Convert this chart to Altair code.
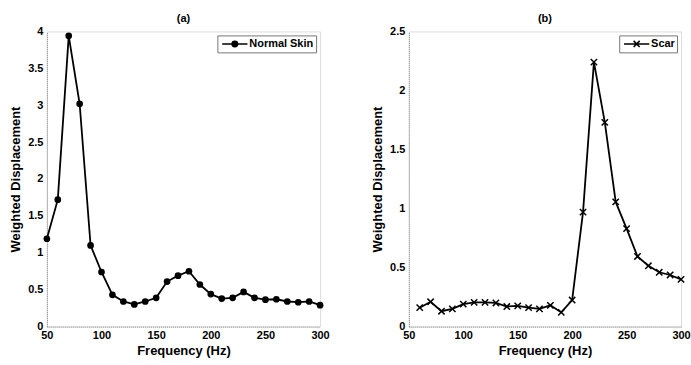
import altair as alt
import pandas as pd

freq_a = [50, 60, 70, 80, 90, 100, 110, 120, 130, 140, 150, 160, 170, 180, 190,
          200, 210, 220, 230, 240, 250, 260, 270, 280, 290, 300]
normal_skin = [1.19, 1.72, 3.94, 3.02, 1.10, 0.74, 0.43, 0.34, 0.30, 0.34, 0.39,
               0.61, 0.69, 0.75, 0.57, 0.44, 0.38, 0.39, 0.47, 0.39, 0.365, 0.37,
               0.34, 0.33, 0.34, 0.29]

freq_b = [60, 70, 80, 90, 100, 110, 120, 130, 140, 150, 160, 170, 180, 190,
          200, 210, 220, 230, 240, 250, 260, 270, 280, 290, 300]
scar = [0.16, 0.21, 0.13, 0.15, 0.19, 0.205, 0.205, 0.20, 0.17, 0.175, 0.16,
        0.15, 0.18, 0.12, 0.225, 0.97, 2.24, 1.73, 1.056, 0.83, 0.594, 0.515,
        0.46, 0.437, 0.40]

x_ticks = [50, 100, 150, 200, 250, 300]
ticks_a = [0, 0.5, 1, 1.5, 2, 2.5, 3, 3.5, 4]
ticks_b = [0, 0.5, 1, 1.5, 2, 2.5]

df_a = pd.DataFrame({"f": freq_a, "v": normal_skin, "s": "Normal Skin"})
df_b = pd.DataFrame({"f": freq_b, "v": scar, "s": "Scar"})

FONT = "Liberation Sans"

def axis_x():
    return alt.Axis(values=x_ticks, title="Frequency (Hz)", grid=False,
                    labelFontSize=11, labelFontWeight="bold", labelColor="black",
                    titleFontSize=13, titleFontWeight="bold", titleColor="black",
                    titlePadding=4, labelPadding=3, ticks=False,
                    domainColor="#888", domainDash=[1, 1],
                    labelFlush=False)

def axis_y(vals):
    return alt.Axis(values=vals, title="Weighted Displacement", grid=False,
                    format=".2~f",
                    labelFontSize=11, labelFontWeight="bold", labelColor="black",
                    titleFontSize=13, titleFontWeight="bold", titleColor="black",
                    titlePadding=5, labelPadding=4, ticks=False,
                    domainColor="#888", domainDash=[1, 1])

circ_path = "M-2.3,0H2.3M-0.5,0A0.5,0.5 0 1 1 0.5,0A0.5,0.5 0 1 1 -0.5,0Z"
x_path = "M-2.3,0H2.3M-0.55,-0.55L0.55,0.55M-0.55,0.55L0.55,-0.55"
x_marker = "M-1,-1L1,1M-1,1L1,-1"

def panel(df, ymax, yticks, title, sym_path, filled, w, lx):
    base = alt.Chart(df).encode(
        x=alt.X("f:Q", scale=alt.Scale(domain=[50, 300], nice=False), axis=axis_x()),
        y=alt.Y("v:Q", scale=alt.Scale(domain=[0, ymax], nice=False), axis=axis_y(yticks)),
    )
    legend = alt.Legend(title=None, orient="none", legendX=lx, legendY=4,
                        symbolType=sym_path, symbolSize=121,
                        symbolStrokeColor="black", symbolStrokeWidth=1.5,
                        symbolFillColor="black" if filled else "transparent",
                        labelFontSize=11, labelFontWeight="bold", labelColor="black",
                        labelFont=FONT, strokeColor="#777", fillColor="white",
                        padding=2, symbolOffset=9, labelOffset=8, cornerRadius=0)
    line = base.mark_line(color="black", strokeWidth=1.8).encode(
        color=alt.Color("s:N", scale=alt.Scale(range=["black"]), legend=legend)
    )
    if filled:
        pts = base.mark_point(shape="circle", filled=True, size=45, color="black", opacity=1)
    else:
        pts = base.mark_point(shape=x_marker, filled=False, size=40, color="black",
                              strokeWidth=1.5, opacity=1)
    return alt.layer(line, pts).properties(
        width=w, height=296,
        title=alt.Title(title, fontSize=11, fontWeight="bold", font=FONT,
                        color="black", offset=1),
    )

pa = panel(df_a, 4, ticks_a, "(a)", circ_path, True, 274, 171)
pb = panel(df_b, 2.5, ticks_b, "(b)", x_path, False, 273, 211)

chart = alt.hconcat(pa, pb, spacing=41).resolve_scale(color="independent").resolve_legend(
    color="independent"
).properties(
    padding={"left": 9, "top": 12, "right": 0, "bottom": 0},
    background="white",
).configure_view(stroke=None).configure(font=FONT)

chart.save("out.html", embed_options={"renderer": "svg", "actions": False})
